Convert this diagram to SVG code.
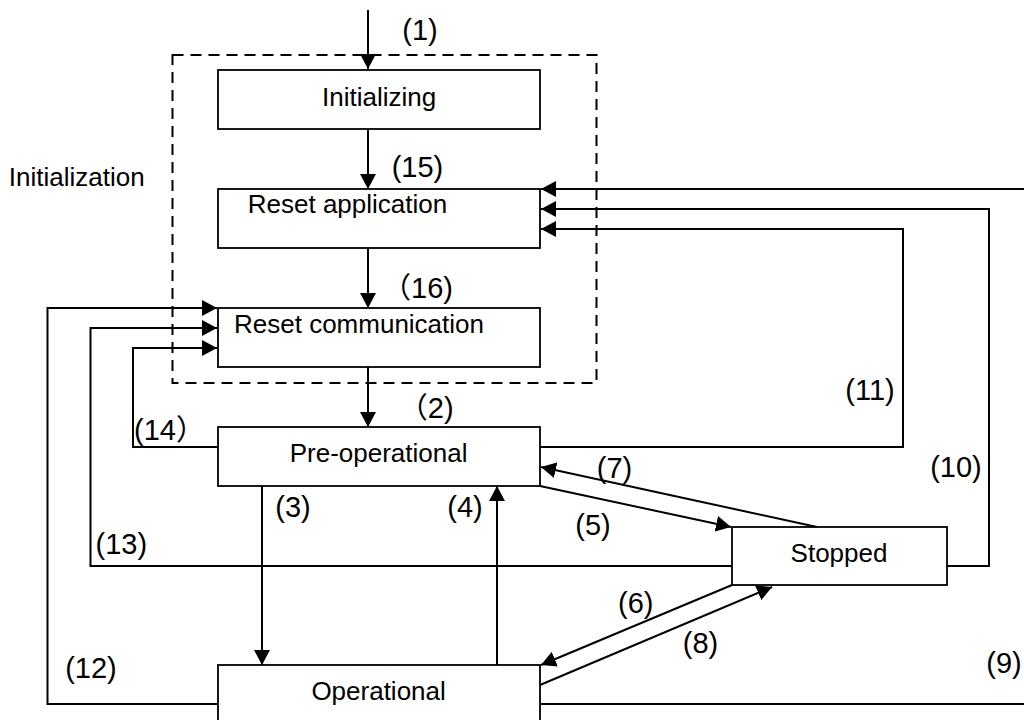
<svg xmlns="http://www.w3.org/2000/svg" width="1024" height="720" viewBox="0 0 1024 720">
<style>
.box{fill:#fff;stroke:#000;stroke-width:1.8}
.t{font-family:"Liberation Sans",Arial,sans-serif;font-size:26px;fill:#000;text-anchor:middle}
.lb{font-family:"Liberation Sans","Noto Sans CJK SC",sans-serif;font-size:29px;fill:#000;text-anchor:middle}
.c{fill:none;stroke:#000;stroke-width:2}
.dash{fill:none;stroke:#000;stroke-width:2;stroke-dasharray:11 7}
</style>
<defs>
<marker id="ah" markerUnits="userSpaceOnUse" markerWidth="16" markerHeight="16" refX="15" refY="8" orient="auto">
<path d="M0,0 L15,8 L0,16 z" fill="#000"/>
</marker>
</defs>
<rect width="1024" height="720" fill="#fff"/>
<g id="initialization-group">
<rect class="dash" x="172.5" y="55" width="424" height="328"/>
<text class="t" x="76.7" y="186">Initialization</text>
</g>
<g id="connectors">
<path class="c" d="M368,10 L368,69" marker-end="url(#ah)"/>
<path class="c" d="M368,129 L368,189" marker-end="url(#ah)"/>
<path class="c" d="M368,248 L368,308" marker-end="url(#ah)"/>
<path class="c" d="M368,367 L368,427" marker-end="url(#ah)"/>
<path class="c" d="M262,486 L262,665" marker-end="url(#ah)"/>
<path class="c" d="M497,665 L497,486" marker-end="url(#ah)"/>
<path class="c" d="M540,486 L731,527" marker-end="url(#ah)"/>
<path class="c" d="M817,527 L541,467" marker-end="url(#ah)"/>
<path class="c" d="M732,585 L541,665" marker-end="url(#ah)"/>
<path class="c" d="M540,685 L772,587" marker-end="url(#ah)"/>
<path class="c" d="M540,704 L1030,704 L1030,189 L541,189" marker-end="url(#ah)"/>
<path class="c" d="M947,566 L989,566 L989,209 L541,209" marker-end="url(#ah)"/>
<path class="c" d="M540,447 L903,447 L903,229 L541,229" marker-end="url(#ah)"/>
<path class="c" d="M218,704 L47.5,704 L47.5,308 L217,308" marker-end="url(#ah)"/>
<path class="c" d="M732,566 L90.5,566 L90.5,328 L217,328" marker-end="url(#ah)"/>
<path class="c" d="M218,447 L133,447 L133,348 L217,348" marker-end="url(#ah)"/>
</g>
<g id="labels">
<text class="lb" x="420" y="40">(1)</text>
<text class="lb" x="417.5" y="177">(15)</text>
<text class="lb" x="453" y="298" style="text-anchor:end">（16)</text>
<text class="lb" x="453.6" y="418" style="text-anchor:end">（2)</text>
<text class="lb" x="134" y="440" style="text-anchor:start">(14）</text>
<text class="lb" x="870" y="400">(11)</text>
<text class="lb" x="956" y="477">(10)</text>
<text class="lb" x="614.5" y="478">(7)</text>
<text class="lb" x="593" y="535">(5)</text>
<text class="lb" x="293" y="517">(3)</text>
<text class="lb" x="465" y="517">(4)</text>
<text class="lb" x="121.3" y="554">(13)</text>
<text class="lb" x="635.8" y="613">(6)</text>
<text class="lb" x="700.5" y="653">(8)</text>
<text class="lb" x="91" y="678">(12)</text>
<text class="lb" x="1004" y="673">(9)</text>
</g>
<g id="node-initializing">
<rect class="box" x="218" y="70" width="322" height="59"/>
<text class="t" x="379.2" y="106">Initializing</text>
</g>
<g id="node-reset-application">
<rect class="box" x="218" y="189" width="322" height="59"/>
<text class="t" x="347.5" y="213">Reset application</text>
</g>
<g id="node-reset-communication">
<rect class="box" x="218" y="308" width="322" height="59"/>
<text class="t" x="359" y="333">Reset communication</text>
</g>
<g id="node-pre-operational">
<rect class="box" x="218" y="427" width="322" height="59"/>
<text class="t" x="378.6" y="462">Pre-operational</text>
</g>
<g id="node-stopped">
<rect class="box" x="732" y="527" width="215" height="58"/>
<text class="t" x="839" y="562">Stopped</text>
</g>
<g id="node-operational">
<rect class="box" x="218" y="665" width="322" height="70"/>
<text class="t" x="378.6" y="700">Operational</text>
</g>
</svg>
